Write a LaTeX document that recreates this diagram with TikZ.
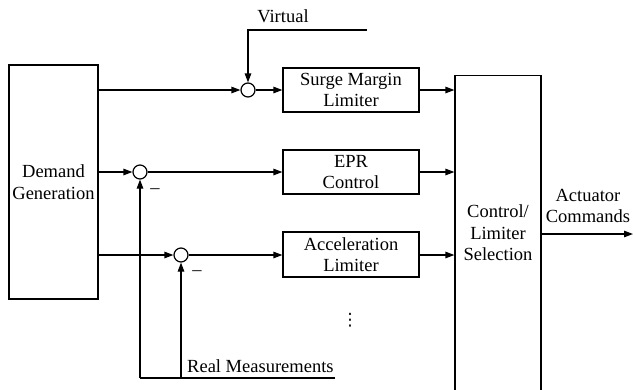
\documentclass[tikz,border=0pt]{standalone}
\usepackage{fontspec}
\setmainfont{Liberation Serif}
\newfontfamily\symfont{DejaVu Sans}
\usetikzlibrary{arrows.meta}
\begin{document}
\begin{tikzpicture}[x=1pt,y=-1pt,
  every node/.style={font=\fontsize{18.5}{21.5}\selectfont},
  line/.style={line width=1.2pt},
  arr/.style={line width=1.2pt,-{Triangle[length=9pt,width=6.5pt]}},
  blk/.style={draw,line width=1.2pt,inner sep=0pt,align=center},
  sumpt/.style={draw,circle,line width=1.2pt,minimum size=14pt,inner sep=0pt},
  lbl/.style={inner sep=0pt,align=center}]
\useasboundingbox (0,0) rectangle (633,389);

% main blocks
\node[blk,minimum width=89pt,minimum height=234pt] (demand) at (53.5,182) {Demand\\Generation};
\node[blk,minimum width=136pt,minimum height=44pt] (surge) at (351,90) {Surge Margin\\Limiter};
\node[blk,minimum width=136pt,minimum height=44pt] (epr) at (351,172) {EPR\\Control};
\node[blk,minimum width=136pt,minimum height=45pt] (accel) at (351,254.5) {Acceleration\\Limiter};
\node[blk,minimum width=86pt,minimum height=320pt,anchor=north] (select) at (498,75) {};
\node[lbl] (seltext) at (498,233) {Control/\\Limiter\\Selection};

% summing junctions
\node[sumpt] (s1) at (248,90) {};
\node[sumpt] (s2) at (140,172) {};
\node[sumpt] (s3) at (181,255) {};

% labels
\node[lbl] (virtual) at (283,16) {Virtual};
\node[lbl,anchor=base west] (real) at (187,372) {Real Measurements};
\node[lbl] (act) at (588,206) {Actuator\\Commands};
\node[lbl,font=\symfont\fontsize{17}{17}\selectfont] (dots) at (350,320) {⋮};
\node[lbl] (m2) at (155,191) {–};
\node[lbl] (m3) at (197,273) {–};

% helper points
\coordinate (vend) at (367,30);
\coordinate (vcorner) at (248,30);
\coordinate (rend) at (335,378);
\coordinate (rc2) at (140,378);
\coordinate (rc3) at (181,378);
\coordinate (out) at (633,234);

% forward paths
\draw[arr] (demand.east |- s1) -- (s1);
\draw[arr] (s1) -- (surge.west |- s1);
\draw[arr] (demand.east |- s2) -- (s2);
\draw[arr] (s2) -- (epr.west |- s2);
\draw[arr] (demand.east |- s3) -- (s3);
\draw[arr] (s3) -- (accel.west |- s3);

% into selection
\draw[arr] (surge.east) -- (select.west |- surge.east);
\draw[arr] (epr.east) -- (select.west |- epr.east);
\draw[arr] (accel.east |- s3) -- (select.west |- s3);
\draw[arr] (select.east |- out) -- (out);

% virtual and measured signals
\draw[arr] (vend) -- (vcorner) -- (s1);
\draw[line] (rend) -- (rc2);
\draw[arr] (rc2) -- (s2);
\draw[arr] (rc3) -- (s3);
\end{tikzpicture}
\end{document}
